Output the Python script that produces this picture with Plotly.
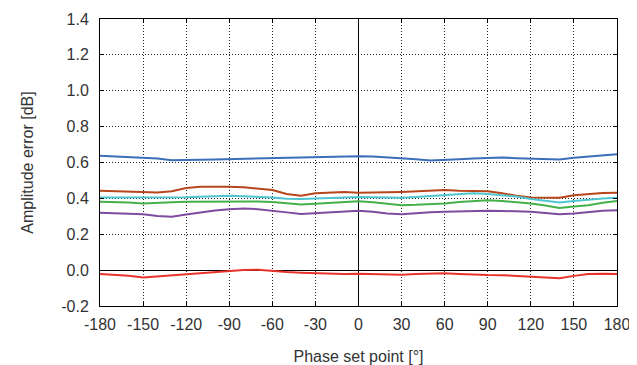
import plotly.graph_objects as go

phase = list(range(-180, 181, 10))

blue = [0.637, 0.634, 0.630, 0.627, 0.622, 0.613, 0.612, 0.615, 0.617, 0.619,
        0.621, 0.623, 0.625, 0.626, 0.628, 0.630, 0.632, 0.633, 0.635, 0.634,
        0.630, 0.626, 0.618, 0.611, 0.613, 0.618, 0.622, 0.627, 0.628, 0.624,
        0.622, 0.619, 0.617, 0.626, 0.632, 0.640, 0.646]
orange = [0.442, 0.440, 0.438, 0.436, 0.433, 0.440, 0.458, 0.465, 0.466, 0.465,
          0.462, 0.455, 0.447, 0.424, 0.414, 0.428, 0.434, 0.436, 0.432, 0.431,
          0.434, 0.436, 0.440, 0.445, 0.447, 0.443, 0.441, 0.440, 0.428, 0.414,
          0.405, 0.402, 0.403, 0.418, 0.425, 0.430, 0.431]
cyan = [0.405, 0.405, 0.404, 0.405, 0.405, 0.405, 0.406, 0.409, 0.412, 0.414,
        0.412, 0.409, 0.405, 0.398, 0.396, 0.400, 0.404, 0.407, 0.408, 0.406,
        0.404, 0.403, 0.408, 0.414, 0.419, 0.424, 0.428, 0.424, 0.418, 0.410,
        0.396, 0.385, 0.377, 0.385, 0.394, 0.400, 0.404]
green = [0.381, 0.380, 0.377, 0.372, 0.373, 0.378, 0.381, 0.382, 0.383, 0.384,
         0.383, 0.382, 0.380, 0.372, 0.366, 0.370, 0.376, 0.381, 0.384, 0.378,
         0.368, 0.362, 0.364, 0.366, 0.372, 0.380, 0.386, 0.389, 0.385, 0.378,
         0.372, 0.360, 0.347, 0.355, 0.362, 0.375, 0.385]
purple = [0.320, 0.318, 0.315, 0.312, 0.302, 0.298, 0.310, 0.322, 0.332, 0.340,
          0.343, 0.340, 0.333, 0.322, 0.313, 0.318, 0.325, 0.329, 0.331, 0.325,
          0.316, 0.312, 0.318, 0.323, 0.325, 0.328, 0.330, 0.331, 0.330, 0.328,
          0.325, 0.318, 0.312, 0.316, 0.324, 0.331, 0.334]
red = [-0.022, -0.025, -0.032, -0.041, -0.035, -0.028, -0.022, -0.015, -0.010, -0.002,
       0.001, 0.002, -0.005, -0.010, -0.014, -0.017, -0.019, -0.021, -0.020, -0.022,
       -0.024, -0.026, -0.022, -0.018, -0.017, -0.021, -0.025, -0.027, -0.028, -0.032,
       -0.036, -0.043, -0.045, -0.032, -0.022, -0.020, -0.022]

x_ticks = list(range(-180, 181, 30))
y_ticks = [-0.2, 0.0, 0.2, 0.4, 0.6, 0.8, 1.0, 1.2, 1.4]

series = [
    (blue, "#3b6fba"),
    (orange, "#b8461c"),
    (cyan, "#4ec5cf"),
    (green, "#45b04a"),
    (purple, "#7e4b9e"),
    (red, "#e8332a"),
]

fig = go.Figure()
for vals, col in series:
    fig.add_trace(go.Scatter(x=phase, y=vals, mode="lines",
                             line=dict(color=col, width=2), showlegend=False))

font = dict(family="Liberation Sans, Arial, sans-serif", size=16, color="#333333")

# page body has an 8px default margin; size the figure so it fits the window
fig.update_layout(
    width=629, height=357,
    margin=dict(l=92, r=20, t=11, b=59),
    paper_bgcolor="white", plot_bgcolor="white",
    font=font,
    showlegend=False,
)
fig.update_xaxes(
    range=[-180, 180], tickvals=x_ticks, ticktext=[str(t) for t in x_ticks],
    showgrid=True, gridcolor="#222222", griddash="1px,2px", gridwidth=1,
    zeroline=True, zerolinecolor="black", zerolinewidth=1,
    showline=True, linecolor="black", linewidth=1, mirror="ticks",
    ticks="inside", ticklen=4, tickcolor="black", ticklabelstandoff=4,
    title=dict(text="Phase set point [°]", font=font, standoff=20),
    tickfont=font, automargin=False,
)
fig.update_yaxes(
    range=[-0.2, 1.4], tickvals=y_ticks, ticktext=[f"{t:.1f}" for t in y_ticks],
    showgrid=True, gridcolor="#222222", griddash="1px,2px", gridwidth=1,
    zeroline=True, zerolinecolor="black", zerolinewidth=1,
    showline=True, linecolor="black", linewidth=1, mirror="ticks",
    ticks="inside", ticklen=4, tickcolor="black", ticklabelstandoff=7,
    title=dict(text="Amplitude error [dB]", font=font, standoff=23),
    tickfont=font, automargin=False,
)

fig.write_html("out.html")
